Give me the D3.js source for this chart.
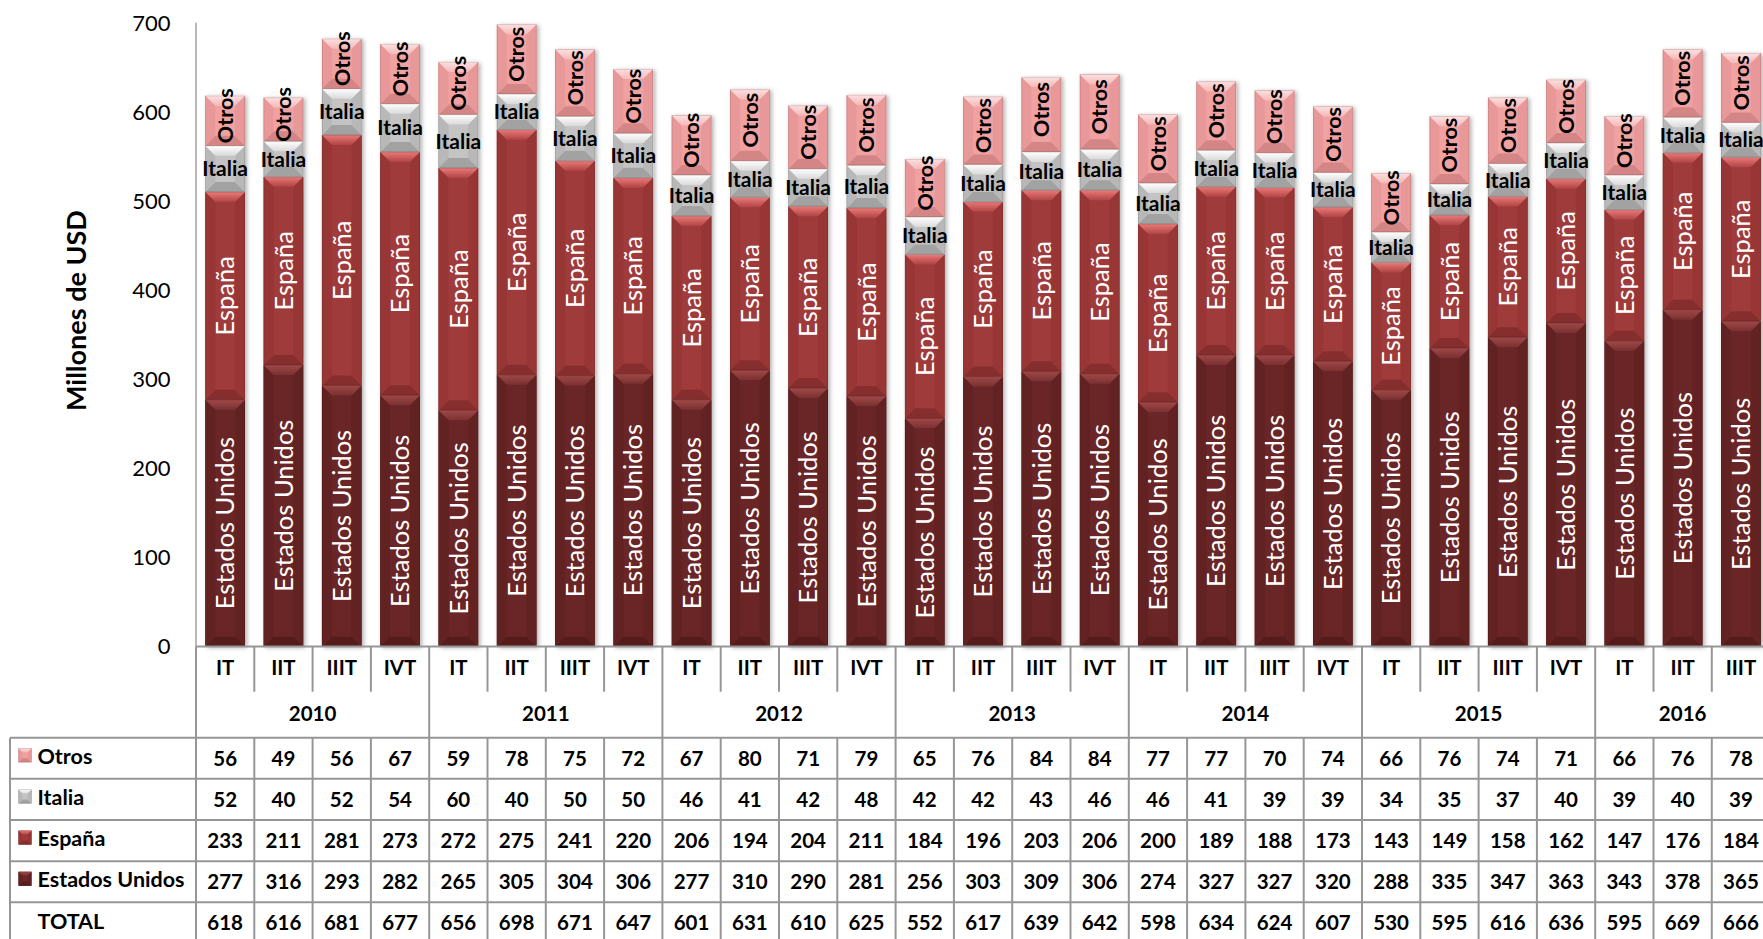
<!DOCTYPE html>
<html><head><meta charset="utf-8">
<script src="https://cdn.jsdelivr.net/npm/d3@7"></script>
<style>
html,body{margin:0;padding:0;background:#fff;overflow:hidden}
text{font-family:Lato,"Open Sans",sans-serif}
</style></head><body>
<svg id="chart" width="1763" height="939"></svg>
<script>
// ---------------- DATA ----------------
const years = ["2010","2011","2012","2013","2014","2015","2016"];
const quartersPerYear = [4,4,4,4,4,4,3];
const quarterNames = ["IT","IIT","IIIT","IVT"];
const seriesNames = ["Otros","Italia","España","Estados Unidos"];
const otros  = [56,49,56,67, 59,78,75,72, 67,80,71,79, 65,76,84,84, 77,77,70,74, 66,76,74,71, 66,76,78];
const italia = [52,40,52,54, 60,40,50,50, 46,41,42,48, 42,42,43,46, 46,41,39,39, 34,35,37,40, 39,40,39];
const espana = [233,211,281,273, 272,275,241,220, 206,194,204,211, 184,196,203,206, 200,189,188,173, 143,149,158,162, 147,176,184];
const eeuu   = [277,316,293,282, 265,305,304,306, 277,310,290,281, 256,303,309,306, 274,327,327,320, 288,335,347,363, 343,378,365];
const total  = [618,616,681,677, 656,698,671,647, 601,631,610,625, 552,617,639,642, 598,634,624,607, 530,595,616,636, 595,669,666];
const yTicks = [0,100,200,300,400,500,600,700];
const yTitle = "Millones de USD";
const totalLabel = "TOTAL";

// ---------------- LAYOUT ----------------
const svg = d3.select("#chart");
const quarters = [];
years.forEach((yr, yi) => { for (let q = 0; q < quartersPerYear[yi]; q++) quarters.push({year: yr, q: quarterNames[q]}); });
const n = quarters.length;
const left = 196, step = 58.3;
const x = d3.scaleBand().domain(d3.range(n)).range([left, left + step * n]).paddingInner(0).paddingOuter(0);
const y = d3.scaleLinear().domain([0, 700]).range([646.5, 22.7]);
const barW = x.bandwidth() * 0.68;

const keys = ["eeuu","espana","italia","otros"];
const vals = {eeuu, espana, italia, otros};
const rows = d3.range(n).map(i => { const r = {i}; keys.forEach(k => r[k] = vals[k][i]); return r; });
const stacked = d3.stack().keys(keys)(rows);

const colors = {
  eeuu:   {body:"#6a2626", top:"#a04848", topMid:"#7a3030", side:"#632323", bottom:"#561c1c", label:"Estados Unidos"},
  espana: {body:"#a03a3a", top:"#ea7a78", topMid:"#b04444", side:"#983636", bottom:"#862e2e", label:"España"},
  italia: {body:"#c4c4c4", top:"#ffffff", topMid:"#dadada", side:"#b8b8b8", bottom:"#a2a2a2", label:"Italia"},
  otros:  {body:"#f0a2a2", top:"#fde0e0", topMid:"#f5b8b8", side:"#e89898", bottom:"#d48686", label:"Otros"}
};

const defs = svg.append("defs");
defs.append("filter").attr("id","sh").attr("x","-30%").attr("y","-5%").attr("width","170%").attr("height","112%")
  .append("feDropShadow").attr("dx",2).attr("dy",1).attr("stdDeviation",2.2).attr("flood-color","#000").attr("flood-opacity",0.3);
keys.forEach(k => {
  const g = defs.append("linearGradient").attr("id","tg_"+k).attr("x1",0).attr("y1",0).attr("x2",0).attr("y2",1);
  g.append("stop").attr("offset","0%").attr("stop-color",colors[k].top);
  g.append("stop").attr("offset","100%").attr("stop-color",colors[k].topMid);
});

function bevel(g, k, bx, y0, w, h, dmax) {
  const c = colors[k];
  const d = Math.max(0, Math.min(dmax, h / 2, w / 2));
  g.append("rect").attr("x",bx).attr("y",y0).attr("width",w).attr("height",h).attr("fill",c.body);
  const pts = a => a.map(p => p.join(",")).join(" ");
  g.append("polygon").attr("points",pts([[bx,y0+h],[bx+w,y0+h],[bx+w-d,y0+h-d],[bx+d,y0+h-d]])).attr("fill",c.bottom);
  g.append("polygon").attr("points",pts([[bx,y0],[bx+d,y0+d],[bx+d,y0+h-d],[bx,y0+h]])).attr("fill",c.side);
  g.append("polygon").attr("points",pts([[bx+w,y0],[bx+w-d,y0+d],[bx+w-d,y0+h-d],[bx+w,y0+h]])).attr("fill",c.side);
  g.append("polygon").attr("points",pts([[bx,y0],[bx+w,y0],[bx+w-d,y0+d],[bx+d,y0+d]])).attr("fill","url(#tg_"+k+")");
  g.append("rect").attr("x",bx+0.3).attr("y",y0+0.3).attr("width",w-0.6).attr("height",Math.max(0,h-0.6))
    .attr("fill","none").attr("stroke","rgba(0,0,0,0.18)").attr("stroke-width",0.6);
}

// ---------------- BARS ----------------
const barsG = svg.append("g");
d3.range(n).forEach(i => {
  const bg = barsG.append("g").attr("filter","url(#sh)");
  const bx = x(i) + (x.bandwidth() - barW) / 2;
  stacked.forEach(s => {
    const d = s[i];
    bevel(bg, s.key, bx, y(d[1]), barW, y(d[0]) - y(d[1]), 10);
  });
});

// ---------------- SEGMENT LABELS ----------------
const labG = svg.append("g");
stacked.forEach(s => {
  s.forEach((d, i) => {
    const cx = x(i) + x.bandwidth() / 2;
    const cy = (y(d[0]) + y(d[1])) / 2;
    const k = s.key;
    if (k === "italia") {
      labG.append("text").attr("x",cx).attr("y",cy).attr("dy","0.36em").attr("text-anchor","middle")
        .attr("font-size",21).attr("font-weight","bold").attr("fill","#000").text(colors[k].label);
    } else {
      const white = (k === "eeuu" || k === "espana");
      const off = k === "otros" ? -5 : 0;
      labG.append("text").attr("transform",`translate(${cx},${cy + off}) rotate(-90)`)
        .attr("dy","0.36em").attr("text-anchor","middle")
        .attr("font-size", white ? 25.5 : 21.5).attr("font-weight", white ? "normal" : "bold")
        .attr("fill", white ? "#fff" : "#000").text(colors[k].label);
    }
  });
});

// ---------------- Y AXIS ----------------
const axG = svg.append("g");
axG.append("line").attr("x1",left).attr("x2",left).attr("y1",y(700)).attr("y2",y(0)).attr("stroke","#a0a0a0").attr("stroke-width",1.5);
yTicks.forEach(t => {
  axG.append("text").attr("x",170.5).attr("y",y(t)).attr("dy","0.36em").attr("text-anchor","end")
    .attr("font-size",22).attr("fill","#000").text(t);
});
axG.append("text").attr("transform",`translate(86,${(y(0)+y(700))/2 - 24}) rotate(-90)`).attr("text-anchor","middle")
  .attr("font-size",27).attr("font-weight","bold").text(yTitle);

// ---------------- TABLE ----------------
const tG = svg.append("g");
const topY = y(0), qBottom = 691.7, yearBottom = 737.7, rowH = 41.15;
const tableBottom = yearBottom + rowH * 5;
const right = left + step * n;
const lineC = "#969696", lw = 2;
const hline = (x1, x2, yy) => tG.append("line").attr("x1",x1).attr("x2",x2).attr("y1",yy).attr("y2",yy).attr("stroke",lineC).attr("stroke-width",lw);
const vline = (xx, y1, y2) => tG.append("line").attr("x1",xx).attr("x2",xx).attr("y1",y1).attr("y2",y2).attr("stroke",lineC).attr("stroke-width",lw);
hline(left, right, topY);
for (let r = 0; r <= 5; r++) hline(10, right, yearBottom + r * rowH);
vline(10, yearBottom, tableBottom);
let cum = 0;
const yearStarts = [];
quartersPerYear.forEach(c => { yearStarts.push(cum); cum += c; });
for (let i = 0; i <= n; i++) {
  const xx = i < n ? x(i) : right;
  if (yearStarts.includes(i) || i === n) vline(xx, topY, tableBottom);
  else { vline(xx, topY, qBottom); vline(xx, yearBottom, tableBottom); }
}
// quarter labels
quarters.forEach((q, i) => {
  tG.append("text").attr("x", x(i) + x.bandwidth()/2).attr("y", 668).attr("dy","0.36em").attr("text-anchor","middle")
    .attr("font-size",20.5).attr("font-weight","bold").text(q.q);
});
// year labels
years.forEach((yr, yi) => {
  const a = x(yearStarts[yi]), b = a + step * quartersPerYear[yi];
  tG.append("text").attr("x",(a+b)/2).attr("y",714).attr("dy","0.36em").attr("text-anchor","middle")
    .attr("font-size",20.5).attr("font-weight","bold").text(yr);
});
// data rows
const tableRows = [
  {key:"otros", name: seriesNames[0], data: otros},
  {key:"italia", name: seriesNames[1], data: italia},
  {key:"espana", name: seriesNames[2], data: espana},
  {key:"eeuu", name: seriesNames[3], data: eeuu},
  {key:null, name: totalLabel, data: total}
];
tableRows.forEach((r, ri) => {
  const cy = yearBottom + ri * rowH + rowH / 2;
  if (r.key) {
    const kg = tG.append("g");
    bevel(kg, r.key, 18.5, cy - 10, 13, 14, 4);
  }
  tG.append("text").attr("x",37.5).attr("y",cy - 2).attr("dy","0.36em").attr("font-size",21.5).attr("font-weight","bold").text(r.name);
  r.data.forEach((v, i) => {
    tG.append("text").attr("x", x(i) + x.bandwidth()/2).attr("y", cy).attr("dy","0.36em").attr("text-anchor","middle")
      .attr("font-size",20.5).attr("font-weight","bold").text(v);
  });
});
</script>
</body></html>
